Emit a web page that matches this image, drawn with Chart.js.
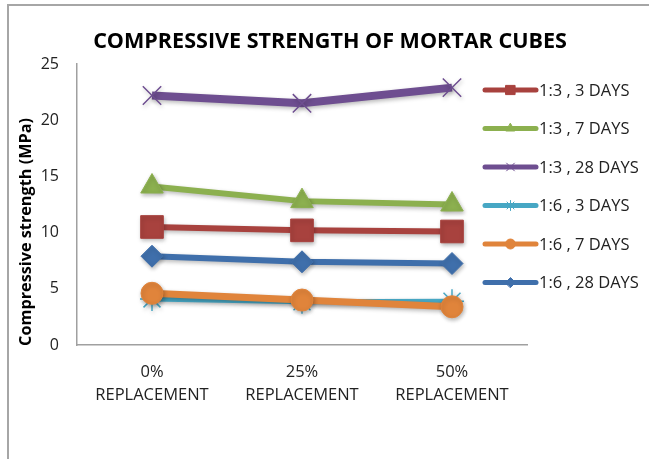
<!DOCTYPE html>
<html>
<head>
<meta charset="utf-8">
<script src="https://cdn.jsdelivr.net/npm/chart.js@4.4.1/dist/chart.umd.min.js"></script>
<style>
  html, body { margin: 0; padding: 0; background: #fff; }
  #wrap { position: relative; width: 649px; height: 459px; overflow: hidden; }
  #frame { position: absolute; left: 7px; top: 4px; width: 700px; height: 500px;
           border-left: 2px solid #a6a6a6; border-top: 2px solid #a6a6a6; }
  canvas { position: absolute; left: 0; top: 0; }
</style>
</head>
<body>
<div id="wrap">
  <div id="frame"></div>
  <canvas id="chart" width="649" height="459"></canvas>
</div>
<script>
// ── Data ─────────────────────────────────────────────
const categories = [['0%', 'REPLACEMENT'], ['25%', 'REPLACEMENT'], ['50%', 'REPLACEMENT']];
const yTicks = [0, 5, 10, 15, 20, 25];

const s13_3  = [10.5, 10.2, 10.1];
const s13_7  = [14.1, 12.8, 12.5];
const s13_28 = [22.2, 21.5, 22.9];
const s16_3  = [4.1, 3.85, 3.9];
const s16_7  = [4.6, 4.0, 3.4];
const s16_28 = [7.9, 7.4, 7.25];

const FONT = '"Open Sans", Lato, sans-serif';

const series = [
  { label: '1:3 , 3 DAYS',  data: s13_3,  color: '#a8423e', style: 'rect',     r: 16, lr: 6.5, w: 6 },
  { label: '1:3 , 7 DAYS',  data: s13_7,  color: '#8cb04f', style: 'triangle', r: 13, lr: 5,   w: 6 },
  { label: '1:3 , 28 DAYS', data: s13_28, color: '#6e4e90', style: 'crossRot', r: 13, lr: 5.5, w: 8 },
  { label: '1:6 , 3 DAYS',  data: s16_3,  color: '#47a7c4', style: 'star',     r: 12, lr: 5,   w: 5 },
  { label: '1:6 , 7 DAYS',  data: s16_7,  color: '#e0843b', style: 'circle',   r: 11, lr: 5,   w: 7 },
  { label: '1:6 , 28 DAYS', data: s16_28, color: '#3f6fab', style: 'rectRot',  r: 11, lr: 5,   w: 6 },
];

const isCross = st => st === 'crossRot' || st === 'star';

// fit text to a width by picking the font size
function fitFont(c, text, weight, target) {
  c.font = weight + ' 20px ' + FONT;
  const size = 20 * target / c.measureText(text).width;
  c.font = weight + ' ' + size.toFixed(2) + 'px ' + FONT;
}

// ── Plugins ──────────────────────────────────────────
const shadowPlugin = {
  id: 'shadow',
  beforeDatasetsDraw(chart) {
    const c = chart.ctx;
    c.save();
    c.shadowColor = 'rgba(0,0,0,0.28)';
    c.shadowBlur = 4;
    c.shadowOffsetX = 1;
    c.shadowOffsetY = 2;
  },
  afterDatasetsDraw(chart) { chart.ctx.restore(); }
};

const textPlugin = {
  id: 'texts',
  afterDraw(chart) {
    const c = chart.ctx;
    c.save();
    c.fillStyle = '#000';
    c.textAlign = 'center';
    c.textBaseline = 'middle';
    const title = 'COMPRESSIVE STRENGTH OF MORTAR CUBES';
    fitFont(c, title, 'bold', 474);
    c.fillText(title, 330, 42);
    // y axis title
    c.translate(26, 232);
    c.rotate(-Math.PI / 2);
    const yt = 'Compressive strength (MPa)';
    fitFont(c, yt, 'bold', 228);
    c.fillText(yt, 0, 0);
    c.restore();

    // legend
    c.save();
    series.forEach((s, i) => {
      const y = 90 + i * 38.5;
      c.strokeStyle = s.color;
      c.fillStyle = s.color;
      c.lineWidth = 5;
      c.lineCap = 'round';
      c.beginPath();
      c.moveTo(485, y);
      c.lineTo(536, y);
      c.stroke();
      c.lineWidth = 1;
      Chart.helpers.drawPoint(c, { pointStyle: s.style, radius: s.lr, borderWidth: 1 }, 510.5, y);
      c.fillStyle = '#222';
      c.font = '16.5px ' + FONT;
      c.textAlign = 'left';
      c.textBaseline = 'middle';
      c.fillText(s.label, 539, y + 1);
    });
    c.restore();
  }
};

// ── Chart ────────────────────────────────────────────
new Chart(document.getElementById('chart'), {
  type: 'line',
  data: {
    labels: categories,
    datasets: series.map((s, i) => ({
      label: s.label,
      data: s.data,
      order: series.length - i,   // later series on top, like Excel
      borderColor: s.color,
      backgroundColor: s.color,
      borderWidth: s.w,
      pointStyle: s.style,
      pointRadius: s.r,
      pointBorderWidth: isCross(s.style) ? 1.5 : 1,
      pointBorderColor: s.color,
      pointBackgroundColor: s.color,
      tension: 0,
      fill: false
    }))
  },
  options: {
    responsive: false,
    animation: false,
    layout: { padding: { left: 0, top: 64, right: 122, bottom: 0 } },
    plugins: { legend: { display: false }, title: { display: false }, tooltip: { enabled: false } },
    scales: {
      x: {
        offset: true,
        grid: { display: false, drawTicks: false },
        border: { display: true, color: '#a0a0a0', width: 1.5 },
        ticks: { color: '#222', font: { family: FONT, size: 16.5, lineHeight: 1.4 }, padding: 16, maxRotation: 0, autoSkip: false },
        afterFit: s => { s.height = 114; }
      },
      y: {
        min: 0, max: 25,
        afterBuildTicks: s => { s.ticks = yTicks.map(v => ({ value: v })); },
        grid: { display: false, drawTicks: false },
        border: { display: true, color: '#a0a0a0', width: 1.5 },
        ticks: { color: '#222', font: { family: FONT, size: 16 }, padding: 18 },
        afterFit: s => { s.width = 77; }
      }
    }
  },
  plugins: [shadowPlugin, textPlugin]
});
</script>
</body>
</html>
